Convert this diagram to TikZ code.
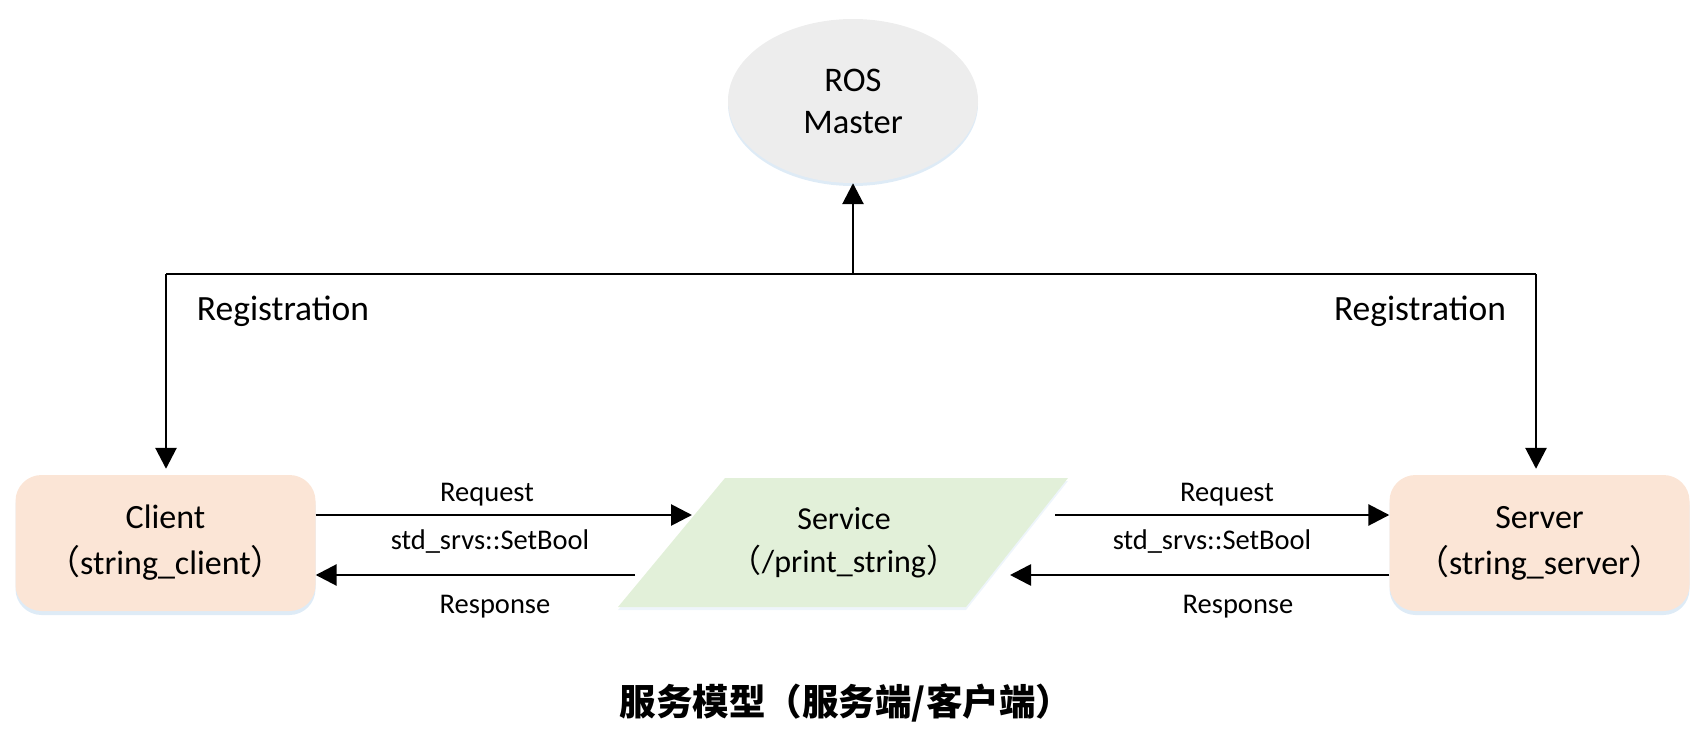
\documentclass[tikz,border=0pt]{standalone}
\usepackage{fontspec}
\setmainfont{Carlito}
\newfontfamily\cjk{Noto Sans CJK SC}
\usetikzlibrary{arrows.meta,calc,shadows,shapes.geometric}
\definecolor{peach}{HTML}{FBE5D6}
\definecolor{mint}{HTML}{E2F0D9}
\definecolor{mastergray}{HTML}{EDEDED}
\definecolor{glow}{HTML}{BDD7EE}
\tikzset{
  conn/.style={line width=2.8pt, -{Triangle[length=21pt,width=21pt]}},
  line/.style={line width=2.8pt},
  nodebox/.style={fill=peach, rounded corners=26pt, minimum width=300pt, minimum height=136pt, inner sep=0pt, align=center, font=\fontsize{34}{46}\selectfont,
    drop shadow={shadow xshift=0pt, shadow yshift=-4pt, fill=glow, opacity=0.5}},
  lbl/.style={font=\fontsize{28.5}{30}\selectfont, inner sep=0pt},
  reg/.style={font=\fontsize{35.5}{38}\selectfont, inner sep=0pt},
}
\begin{document}
\begin{tikzpicture}[x=1pt,y=-1pt]
\useasboundingbox (0,0) rectangle (1701,733);
% ROS Master
\node[ellipse, fill=mastergray, minimum width=250pt, minimum height=164pt, inner sep=0pt, align=center, font=\fontsize{34.5}{42}\selectfont,
  drop shadow={shadow xshift=0pt, shadow yshift=-3pt, fill=glow, opacity=0.5}] (master) at (853,101) {ROS\\Master};
% Client / Server
\node[nodebox] (client) at (165.5,543) {Client\\{\cjk （}string\_client{\cjk ）}};
\node[nodebox] (server) at (1539.5,543) {Server\\{\cjk （}string\_server{\cjk ）}};
% Service parallelogram
\coordinate (s1) at (725,478);
\coordinate (s2) at (1068,478);
\coordinate (s3) at (966,607);
\coordinate (s4) at (618,607);
\fill[mint, drop shadow={shadow xshift=0pt, shadow yshift=-3pt, fill=glow, opacity=0.25}] (s1) -- (s2) -- (s3) -- (s4) -- cycle;
\node[align=center, inner sep=0pt, font=\fontsize{32}{43}\selectfont] (svc) at (844,543) {Service\\{\cjk （}/print\_string{\cjk ）}};
% Registration lines
\coordinate (hl) at (166,274);
\coordinate (hr) at (1536,274);
\coordinate (hm) at (853,274);
\draw[line] (hl) -- (hr);
\draw[conn] (hm) -- (master.south);
\draw[conn] (hl) -- ($(client.north -| hl)+(0,-6)$);
\draw[conn] (hr) -- ($(server.north -| hr)+(0,-6)$);
\node[reg] (regl) at (283,311) {Registration};
\node[reg] (regr) at (1420,311) {Registration};
% Request / Response left
\coordinate (lreqe) at (692,515);
\coordinate (lrese) at (635,575);
\draw[conn] (client.east |- lreqe) -- (lreqe);
\draw[conn] (lrese) -- (client.east |- lrese);
\node[lbl] (lreq) at (487,495) {Request};
\node[lbl] (ltype) at (490,542) {std\_srvs::SetBool};
\node[lbl] (lres) at (495,607) {Response};
% right
\coordinate (rreqs) at (1055,515);
\coordinate (rrese) at (1010,575);
\draw[conn] (rreqs) -- (server.west |- rreqs);
\draw[conn] (server.west |- rrese) -- (rrese);
\node[lbl] (rreq) at (1227,495) {Request};
\node[lbl] (rtype) at (1212,542) {std\_srvs::SetBool};
\node[lbl] (rres) at (1238,607) {Response};
% title
\node[font={\cjk\bfseries\fontsize{36.5}{40}\selectfont}, inner sep=0pt] (title) at (846,703) {服务模型（服务端/客户端）};
\end{tikzpicture}
\end{document}
